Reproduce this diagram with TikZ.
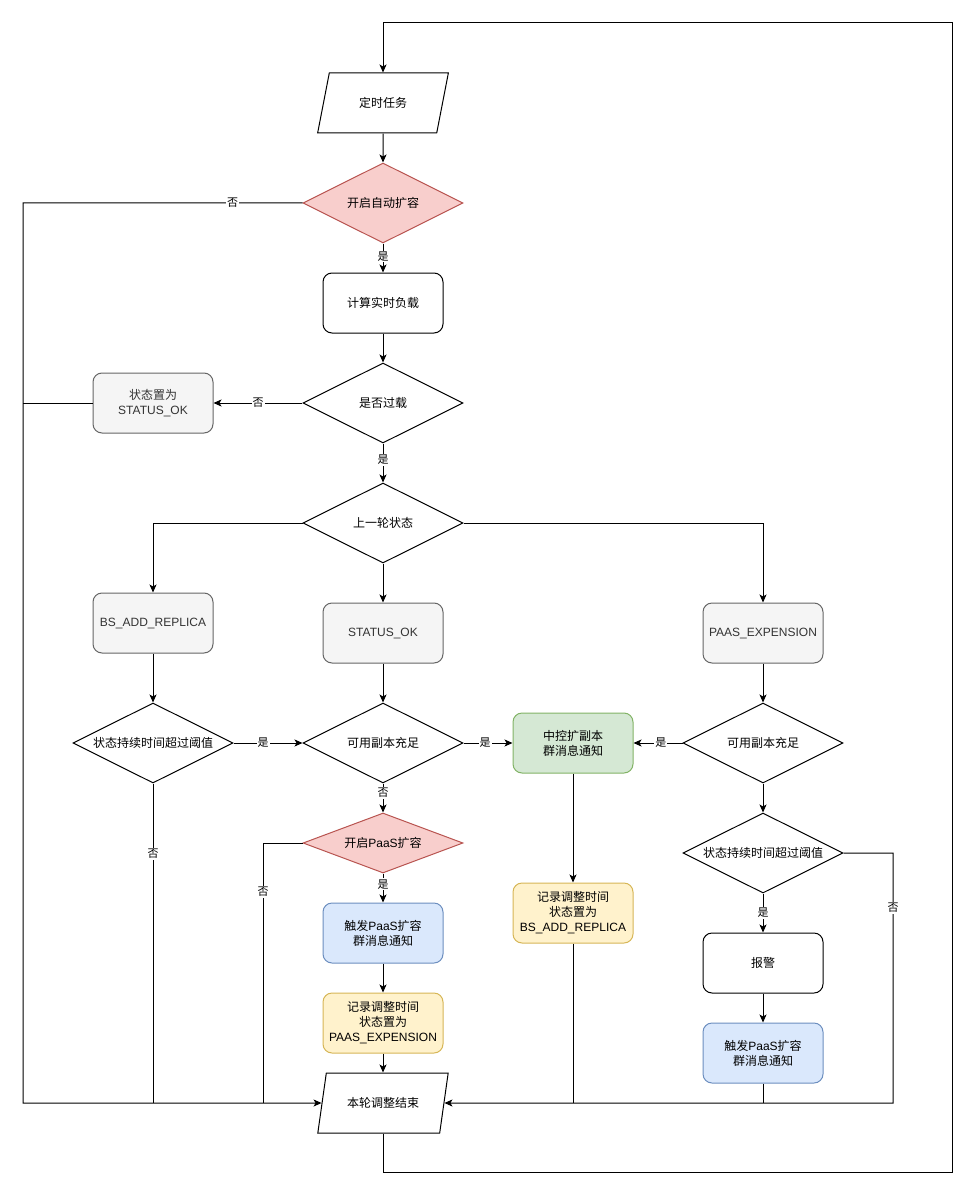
\documentclass[tikz,border=0pt]{standalone}
\usepackage{fontspec}
\setmainfont{Noto Sans CJK SC}
\newfontfamily\latin{Liberation Sans}
\usetikzlibrary{shapes.geometric,arrows.meta}

\definecolor{redfill}{HTML}{F8CECC}
\definecolor{redline}{HTML}{B85450}
\definecolor{grayfill}{HTML}{F5F5F5}
\definecolor{grayline}{HTML}{666666}
\definecolor{graytext}{HTML}{333333}
\definecolor{greenfill}{HTML}{D5E8D4}
\definecolor{greenline}{HTML}{82B366}
\definecolor{yellowfill}{HTML}{FFF2CC}
\definecolor{yellowline}{HTML}{D6B656}
\definecolor{bluefill}{HTML}{DAE8FC}
\definecolor{blueline}{HTML}{6C8EBF}

\tikzset{
  box/.style={draw, rounded corners=9pt, minimum width=120pt, minimum height=60pt,
    align=center, inner sep=2pt},
  graybox/.style={box, fill=grayfill, draw=grayline, text=graytext},
  greenbox/.style={box, fill=greenfill, draw=greenline},
  yellowbox/.style={box, fill=yellowfill, draw=yellowline},
  bluebox/.style={box, fill=bluefill, draw=blueline},
  decide/.style={draw, diamond, shape aspect=2, minimum width=160pt, minimum height=80pt,
    inner sep=0pt, align=center},
  reddecide/.style={decide, fill=redfill, draw=redline},
  io/.style={draw, trapezium, trapezium left angle=71.6, trapezium right angle=108.4,
    trapezium stretches=true, minimum width=131pt, minimum height=60pt},
  flow/.style={-{Stealth[length=8pt,width=7pt,inset=2pt]}},
  lbl/.style={fill=white, inner sep=1pt, font=\fontsize{11}{13}\selectfont}
}

\begin{document}
\begin{tikzpicture}[x=1pt, y=-1pt, line width=1pt, font=\fontsize{12}{15}\selectfont]
\useasboundingbox (0,0) rectangle (978,1198);

% draw nodes of the main column
\node[io] (timer) at (383,103) {定时任务};
\node[reddecide] (auto) at (383,203) {开启自动扩容};
\node[box] (load) at (383,303) {计算实时负载};
\node[decide] (over) at (383,403) {是否过载};
\node[graybox] (setok) at (153,403) {状态置为\\{\latin STATUS\_OK}};
\node[decide] (last) at (383,523) {上一轮状态};

% draw nodes for the three states
\node[graybox] (stadd) at (153,623) {\latin BS\_ADD\_REPLICA};
\node[graybox] (stok) at (383,633) {\latin STATUS\_OK};
\node[graybox] (stpaas) at (763,633) {\latin PAAS\_EXPENSION};

% draw nodes of the second row
\node[decide] (durl) at (153,743) {状态持续时间超过阈值};
\node[decide] (repm) at (383,743) {可用副本充足};
\node[greenbox] (ctrl) at (573,743) {中控扩副本\\群消息通知};
\node[decide] (repr) at (763,743) {可用副本充足};

% draw nodes of the lower part
\node[reddecide, minimum height=60pt, shape aspect=2.667] (paas) at (383,843) {开启{\latin PaaS}扩容};
\node[bluebox] (trigm) at (383,933) {触发{\latin PaaS}扩容\\群消息通知};
\node[yellowbox] (recm) at (383,1023) {记录调整时间\\状态置为\\{\latin PAAS\_EXPENSION}};
\node[yellowbox] (recr) at (573,913) {记录调整时间\\状态置为\\{\latin BS\_ADD\_REPLICA}};
\node[decide] (durr) at (763,853) {状态持续时间超过阈值};
\node[box] (alarm) at (763,963) {报警};
\node[bluebox] (trigr) at (763,1053) {触发{\latin PaaS}扩容\\群消息通知};
\node[io] (done) at (383,1103) {本轮调整结束};

% corner points of the long connectors
\coordinate (lft) at (23,1103);
\coordinate (rgt) at (893,1103);
\coordinate (loopb) at (952,1172);
\coordinate (loopt) at (952,23);

% draw straight arrows
\draw[flow] (timer) -- (auto);
\draw[flow] (auto) -- node[lbl, pos=0.45] {是} (load);
\draw[flow] (load) -- (over);
\draw[flow] (over) -- node[lbl] {否} (setok);
\draw[flow] (over) -- node[lbl, pos=0.42] {是} (last);
\draw[flow] (last.west) -| (stadd);
\draw[flow] (last) -- (stok);
\draw[flow] (last.east) -| (stpaas);
\draw[flow] (stadd) -- (durl);
\draw[flow] (stok) -- (repm);
\draw[flow] (stpaas) -- (repr);
\draw[flow] (durl) -- node[lbl, pos=0.43] {是} (repm);
\draw[flow] (repm) -- node[lbl, pos=0.44] {是} (ctrl);
\draw[flow] (repr) -- node[lbl, pos=0.44] {是} (ctrl);
\draw[flow] (ctrl) -- (recr);
\draw[flow] (repm) -- node[lbl, pos=0.33] {否} (paas);
\draw[flow] (paas) -- node[lbl, pos=0.37] {是} (trigm);
\draw[flow] (trigm) -- (recm);
\draw[flow] (recm) -- (done);
\draw[flow] (repr) -- (durr);
\draw[flow] (durr) -- node[lbl] {是} (alarm);
\draw[flow] (alarm) -- (trigr);

% draw lines into the end node
\draw[flow] (auto.west) -| node[lbl, pos=0.125] {否} (lft) -- (done.west);
\draw (setok.west) -- (setok.west -| lft);
\draw (durl.south) -- node[lbl, pos=0.22] {否} (durl.south |- lft);
\draw (paas.west) -| node[lbl, pos=0.594] {否} (263,1103);
\draw[flow] (durr.east) -| node[lbl, pos=0.61] {否} (rgt) -- (done.east);
\draw (recr.south) -- (recr.south |- rgt);
\draw (trigr.south) -- (trigr.south |- rgt);

% draw the loop back to the start
\draw[flow] (done.south) |- (loopb) -- (loopt) -| (timer.north);
\end{tikzpicture}
\end{document}
